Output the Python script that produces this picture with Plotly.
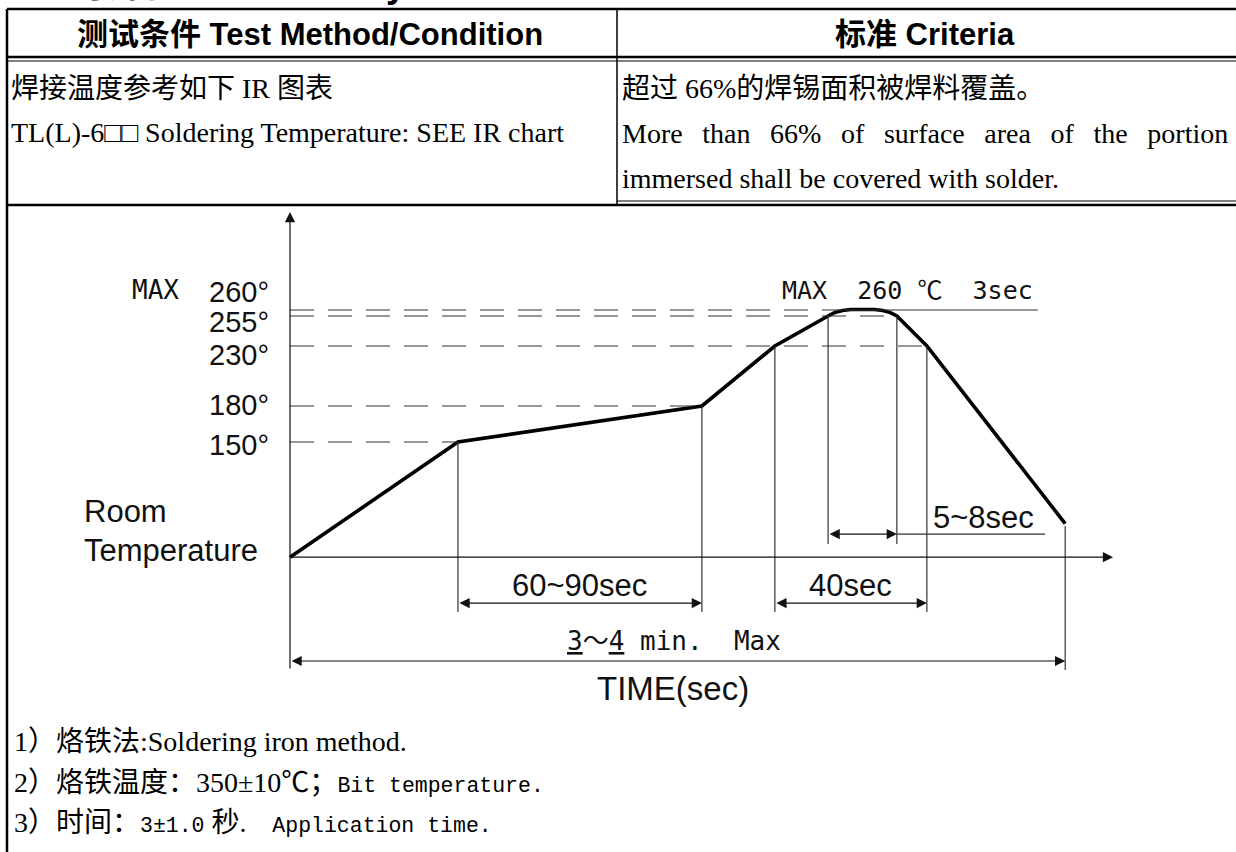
import plotly.graph_objects as go

# ---------------- data ----------------
# temperature levels marked on the vertical axis (°C)
LEVELS_C = [150, 180, 230, 255, 260]
LEVEL_TEXT = ["150°", "180°", "230°", "255°", "260°"]
ROOM_C = 54                      # level of the time axis (room temperature) on this schematic

# key instants of the reflow profile (seconds from start)
T_150 = 44.2      # reaches 150 °C (start of soak)
T_180 = 108.4     # reaches 180 °C (end of soak)
T_230_UP = 127.6
T_255_UP = 141.6
T_255_DN = 159.7
T_230_DN = 167.6
T_END = 204.0
END_C = 82

# profile polyline (time s, temperature °C) incl. the rounded peak
PROFILE_S = [0, T_150, T_180, T_230_UP, T_255_UP, 143.4, 145.4, 147.6, 153.8, 156.0, 158.0, T_255_DN, T_230_DN, T_END]
PROFILE_C = [ROOM_C, 150, 180, 230, 255, 258.0, 259.6, 260.4, 260.4, 259.6, 257.8, 255, 230, END_C]

PEAK_TEXT = "MAX\u00a0 260 ℃\u00a0 3sec"
SPAN_TEXT = ["60~90sec", "40sec", "5~8sec"]
TOTAL_TEXT = "<u>3</u>～<u>4</u> min.\u00a0 Max"

HEAD_LEFT = "测试条件 Test Method/Condition"
HEAD_RIGHT = "标准 Criteria"
LEFT_LINES = ["焊接温度参考如下 IR 图表", "TL(L)-6□□ Soldering Temperature: SEE IR chart"]
RIGHT_LINES = ["超过 66%的焊锡面积被焊料覆盖。",
               "More than 66% of surface area of the portion",
               "immersed shall be covered with solder."]

# ---------------- layout helpers ----------------
W, H = 1236, 852
PX_PER_S = 3.8          # horizontal scale of the schematic
PX_PER_C = 1.2          # vertical scale of the schematic
X0_PX, Y150_PX = 290, 442
XR = [-X0_PX / PX_PER_S, (W - X0_PX) / PX_PER_S]
YR = [150 - (H - Y150_PX) / PX_PER_C, 150 + Y150_PX / PX_PER_C]

def px(x):  # paper x from pixel
    return x / W

def py(y):  # paper y from pixel (top-down)
    return 1 - y / H

SERIF = "Liberation Serif, 'Noto Sans CJK SC', serif"
SANS = "Liberation Sans, Arial, 'Noto Sans CJK SC', sans-serif"
MONO = "Liberation Mono"
GOTH = "DejaVu Sans Mono, 'Noto Sans CJK SC', monospace"
INK = "#111111"
THIN = "#333333"

fig = go.Figure()

# reflow profile curve
fig.add_trace(go.Scatter(x=PROFILE_S, y=PROFILE_C, mode="lines",
                         line=dict(color="black", width=3.6),
                         hoverinfo="skip", showlegend=False))

shapes = []
ann = []

def seg(x0, y0, x1, y1, width=1.2, color=THIN, dash="solid"):
    shapes.append(dict(type="line", xref="x", yref="y", x0=x0, y0=y0, x1=x1, y1=y1,
                       line=dict(color=color, width=width, dash=dash)))

def arrow(x0, y0, x1, y1, both=False):
    ann.append(dict(xref="x", yref="y", axref="x", ayref="y", x=x1, y=y1, ax=x0, ay=y0,
                    text="", showarrow=True, arrowhead=2, arrowsize=1.7, arrowwidth=1.2,
                    arrowcolor=INK, arrowside="end+start" if both else "end",
                    standoff=0, startstandoff=0))

# dashed temperature levels (each runs to where the profile last meets it)
DASH = "24px,14px"
level_end = {150: T_150, 180: T_180, 230: T_230_DN, 255: T_255_DN, 260: 146.0}
for lv in LEVELS_C:
    seg(0, lv, level_end[lv], lv, width=1.2, dash=DASH)
# solid underline of the peak note
seg(146.0, 260, 196.8, 260, width=1.2)

# axes with arrowheads
BOTTOM_C = -40
arrow(0, BOTTOM_C, 0, 341.7)
arrow(0, ROOM_C, 216.6, ROOM_C)

# extension lines
EXT_LOW = 8.3
for t, c in [(T_150, 150), (T_180, 180), (T_230_UP, 230), (T_230_DN, 230)]:
    seg(t, c, t, EXT_LOW)
for t in (T_255_UP, T_255_DN):
    seg(t, 255, t, 65)
seg(T_END, END_C - 2, T_END, BOTTOM_C)

# dimension lines
ROW_PHASE, ROW_PEAK, ROW_TOTAL = 15.8, 73.3, -32.5
arrow(T_150, ROW_PHASE, T_180, ROW_PHASE, both=True)
arrow(T_230_UP, ROW_PHASE, T_230_DN, ROW_PHASE, both=True)
arrow(T_255_UP, ROW_PEAK, T_255_DN, ROW_PEAK, both=True)
seg(T_255_DN, ROW_PEAK, 198.7, ROW_PEAK)
arrow(0, ROW_TOTAL, T_END, ROW_TOTAL, both=True)

def dtext(x, y, s, size=29, family=SANS, xanchor="center", yshift=0):
    ann.append(dict(xref="x", yref="y", x=x, y=y, text=s, showarrow=False,
                    xanchor=xanchor, yanchor="middle", yshift=yshift,
                    font=dict(family=family, size=size, color=INK)))

# level labels
LABEL_SHIFT = [-3, 1, -9, -6, 18]
for lv, s, sh in zip(LEVELS_C, LEVEL_TEXT, LABEL_SHIFT):
    dtext(-5.0, lv, s, xanchor="right", yshift=sh)
dtext(-35.5, 276.7, "MAX", size=26, family=GOTH)
dtext(-54.7, 92.5, "Room", size=31, xanchor="left")
dtext(-54.7, 59.2, "Temperature", size=31, xanchor="left")
dtext((T_150 + T_180) / 2, 30.8, SPAN_TEXT[0], size=31)
dtext((T_230_UP + T_230_DN) / 2, 30.8, SPAN_TEXT[1], size=31)
dtext(168.7, 87.5, SPAN_TEXT[2], size=31, xanchor="left")
dtext(162.4, 276.0, PEAK_TEXT, size=25, family=GOTH)
dtext(101.0, -15.8, TOTAL_TEXT, size=26, family=GOTH)
dtext(100.8, -55.0, "TIME(sec)", size=33)

# ---------------- table frame (paper coordinates) ----------------
def pline(x0, y0, x1, y1, width):
    shapes.append(dict(type="line", xref="paper", yref="paper",
                       x0=px(x0), y0=py(y0), x1=px(x1), y1=py(y1),
                       line=dict(color="black", width=width)))

pline(7, 9, W, 9, 2.5)
pline(7, 9, 7, H, 2.5)
pline(7, 57, W, 57, 2.5)
pline(7, 61, W, 61, 1.2)
pline(617, 9, 617, 205, 1.5)
pline(617, 201, W, 201, 1.2)
pline(7, 205, W, 205, 2.5)

def ptext(x, y, s, size, family, xanchor="left", bold=False, yanchor="middle"):
    ann.append(dict(xref="paper", yref="paper", x=px(x), y=py(y),
                    text=f"<b>{s}</b>" if bold else s, showarrow=False,
                    xanchor=xanchor, yanchor=yanchor,
                    font=dict(family=family, size=size, color="black")))

# cropped section heading above the table (only its lower edge is in view)
ptext(70, -15, "可焊性 Solderability", 36, SANS, bold=True)
ptext(310, 34, HEAD_LEFT, 31, SANS, xanchor="center", bold=True)
ptext(925, 34, HEAD_RIGHT, 31, SANS, xanchor="center", bold=True)

ptext(9, 88, LEFT_LINES[0], 28, SERIF)
ptext(9, 133, LEFT_LINES[1], 28, SERIF)
ptext(620, 88, RIGHT_LINES[0], 28, SERIF)
ptext(620, 134, RIGHT_LINES[1].replace(" ", " \u00a0\u2009"), 28, SERIF)
ptext(620, 179, RIGHT_LINES[2], 28, SERIF)

mono = f"<span style='font-family:{MONO};font-size:21.5px'>"
ptext(12, 741, "1）烙铁法:Soldering iron method.", 28, SERIF)
ptext(12, 782, "2）烙铁温度：350±10℃；" + mono + "Bit temperature.</span>", 28, SERIF)
ptext(12, 822, "3）时间：" + mono + "3±1.0</span> 秒." + mono + "\u00a0\u00a0Application time.</span>", 28, SERIF)

fig.update_layout(
    width=W, height=H,
    margin=dict(l=0, r=0, t=0, b=0),
    paper_bgcolor="white", plot_bgcolor="white",
    xaxis=dict(range=XR, visible=False, fixedrange=True),
    yaxis=dict(range=YR, visible=False, fixedrange=True),
    shapes=shapes, annotations=ann, showlegend=False,
)

fig.write_html("out.html", config={"displayModeBar": False},
               post_script="document.body.style.margin='0';document.body.style.overflow='hidden';")
